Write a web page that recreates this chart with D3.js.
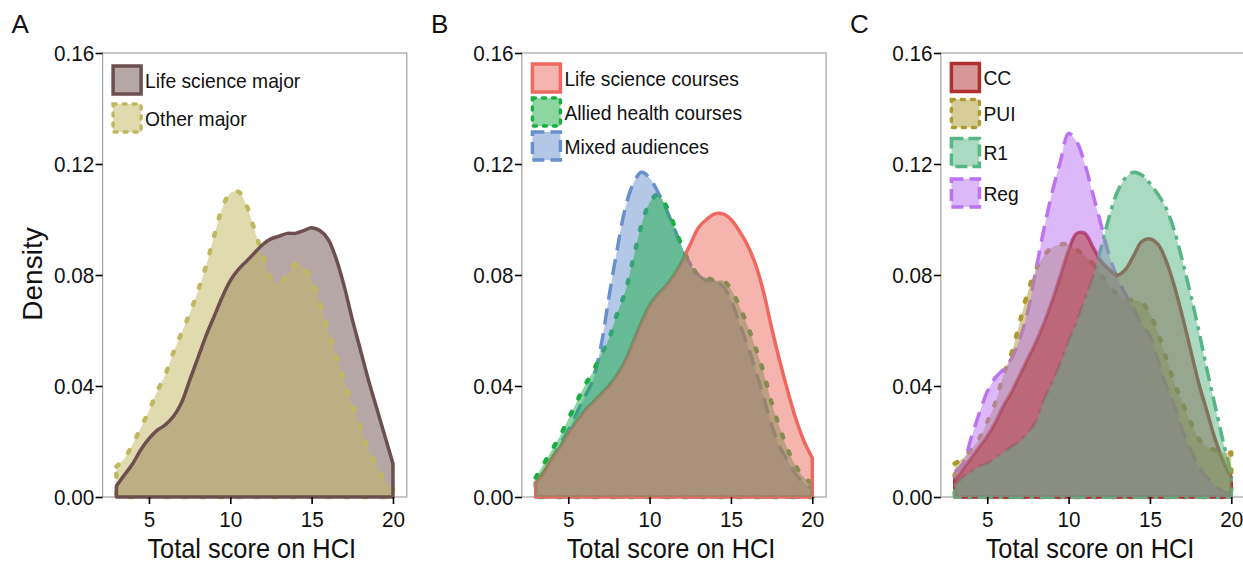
<!DOCTYPE html>
<html><head><meta charset="utf-8">
<script src="https://cdn.jsdelivr.net/npm/d3@7"></script>
<style>
body{margin:0;background:#fff}
svg{display:block}
text{font-family:"Liberation Sans",Arial,Helvetica,sans-serif;fill:#111}
</style>
</head><body>
<svg id="chart" width="1243" height="565"></svg>
<script>
// ---------- data ----------
const scores = [3,3.5,4,4.5,5,5.5,6,6.5,7,7.5,8,8.5,9,9.5,10,10.5,11,11.5,12,12.5,13,13.5,14,14.5,15,15.5,16,16.5,17,17.5,18,18.5,19,19.5,20];
const xTicks = [5,10,15,20];
const yTicks = [0,0.04,0.08,0.12,0.16];
const panelLabels = ["A","B","C"];
const xTitle = "Total score on HCI";
const yTitle = "Density";

// Panel A
const majorNames = ["Life science major","Other major"];
const lifeScienceMajor = [0.004,0.008,0.012,0.017,0.021,0.024,0.026,0.029,0.034,0.042,0.050,0.058,0.065,0.072,0.078,0.082,0.085,0.088,0.091,0.093,0.094,0.095,0.095,0.096,0.097,0.096,0.093,0.086,0.076,0.064,0.053,0.042,0.032,0.022,0.012];
const otherMajor = [0.011,0.014,0.019,0.025,0.031,0.038,0.044,0.052,0.059,0.066,0.074,0.083,0.094,0.104,0.1095,0.110,0.105,0.096,0.087,0.079,0.077,0.080,0.084,0.083,0.078,0.070,0.060,0.051,0.042,0.033,0.025,0.017,0.011,0.006,0.003];

// Panel B
const courseNames = ["Life science courses","Allied health courses","Mixed audiences"];
const lifeScienceCourses = [0.005,0.009,0.014,0.018,0.023,0.027,0.031,0.034,0.037,0.040,0.044,0.049,0.056,0.063,0.069,0.073,0.076,0.080,0.085,0.091,0.097,0.100,0.102,0.102,0.100,0.096,0.091,0.084,0.074,0.061,0.049,0.038,0.028,0.020,0.014];
const alliedHealthCourses = [0.007,0.012,0.017,0.022,0.028,0.034,0.040,0.045,0.051,0.057,0.066,0.074,0.086,0.098,0.106,0.109,0.105,0.098,0.090,0.084,0.080,0.079,0.078,0.078,0.075,0.069,0.062,0.054,0.045,0.034,0.025,0.017,0.011,0.007,0.005];
const mixedAudiences = [0.005,0.009,0.014,0.019,0.024,0.030,0.036,0.042,0.054,0.072,0.089,0.104,0.113,0.117,0.115,0.110,0.104,0.097,0.090,0.084,0.080,0.078,0.078,0.076,0.071,0.063,0.055,0.046,0.036,0.026,0.018,0.013,0.008,0.005,0.003];

// Panel C
const institutionNames = ["CC","PUI","R1","Reg"];
const cc  = [0.006,0.010,0.014,0.018,0.022,0.027,0.033,0.038,0.044,0.050,0.056,0.063,0.071,0.080,0.089,0.095,0.095,0.090,0.085,0.082,0.080,0.082,0.087,0.092,0.093,0.091,0.085,0.076,0.065,0.053,0.041,0.031,0.021,0.013,0.007];
const pui = [0.012,0.014,0.017,0.021,0.027,0.034,0.044,0.052,0.063,0.074,0.082,0.087,0.090,0.091,0.091,0.089,0.087,0.084,0.080,0.076,0.073,0.071,0.071,0.070,0.066,0.059,0.050,0.041,0.034,0.027,0.021,0.018,0.017,0.016,0.016];
const r1  = [0.004,0.007,0.009,0.011,0.012,0.014,0.016,0.018,0.020,0.023,0.027,0.035,0.041,0.048,0.056,0.063,0.071,0.079,0.090,0.101,0.110,0.115,0.117,0.116,0.113,0.109,0.104,0.096,0.085,0.073,0.060,0.046,0.033,0.020,0.008];
const reg = [0.009,0.012,0.021,0.030,0.038,0.043,0.046,0.050,0.057,0.067,0.082,0.097,0.110,0.121,0.131,0.128,0.120,0.109,0.098,0.087,0.079,0.073,0.068,0.062,0.058,0.049,0.040,0.033,0.024,0.017,0.011,0.007,0.004,0.002,0.001];

// ---------- styles ----------
const DOT = "3,15", DASH = "16,9", DOTDASH = "15,6,4,6";
const panels = [
  { left: 102.6, linesOnTop: true,
    series: [
      {name: majorNames[0], values: lifeScienceMajor, color: "#6E4F4F", dash: null},
      {name: majorNames[1], values: otherMajor, color: "#C0B860", dash: DOT}],
    fillOrder: [0,1], lineOrder: [1,0], keyY: [80,118] },
  { left: 521.9, linesOnTop: false,
    series: [
      {name: courseNames[0], values: lifeScienceCourses, color: "#EE6A60", dash: null},
      {name: courseNames[1], values: alliedHealthCourses, color: "#1AAE44", dash: DOT},
      {name: courseNames[2], values: mixedAudiences, color: "#6890CE", dash: DASH}],
    fillOrder: [2,1,0], lineOrder: [2,1,0], keyY: [78,112,146] },
  { left: 940.9, linesOnTop: false,
    series: [
      {name: institutionNames[0], values: cc, color: "#B03030", dash: null},
      {name: institutionNames[1], values: pui, color: "#AC9A30", dash: DOT},
      {name: institutionNames[2], values: r1, color: "#58B585", dash: DOTDASH},
      {name: institutionNames[3], values: reg, color: "#BC72F2", dash: DASH}],
    fillOrder: [1,3,0,2], lineOrder: [1,3,0,2], keyY: [77.5,113.5,152.5,193] }
];

const W = 304.2, TOP = 53, BOTTOM = 497;
const svg = d3.select("#chart");

panels.forEach((p, pi) => {
  const x = d3.scaleLinear().domain([2.15, 20.85]).range([p.left, p.left + W]);
  const y = d3.scaleLinear().domain([0, 0.16]).range([BOTTOM, TOP]);
  const g = svg.append("g");

  g.append("rect").attr("x", p.left).attr("y", TOP).attr("width", W).attr("height", BOTTOM - TOP)
    .attr("fill", "none").attr("stroke", "#a3a3a3").attr("stroke-width", 1.2);

  const topLine = d3.line().x((d, i) => x(scores[i])).y(d => y(d)).curve(d3.curveCatmullRom.alpha(0.5));
  const shape = vals => topLine(vals) +
    `L${x(scores[scores.length-1])},${y(0)}L${x(scores[0])},${y(0)}Z`;

  const drawFill = s => g.append("path").attr("d", shape(s.values))
      .attr("fill", s.color).attr("fill-opacity", 0.5).attr("stroke", "none");
  const drawLine = s => g.append("path").attr("d", shape(s.values))
      .attr("fill", "none").attr("stroke", s.color).attr("stroke-width", s.dash === DOT ? 4.5 : 3.5)
      .attr("stroke-linejoin", "round")
      .attr("stroke-linecap", s.dash === DOT ? "round" : "butt")
      .attr("stroke-dasharray", s.dash);

  if (p.linesOnTop) {
    p.fillOrder.forEach(i => drawFill(p.series[i]));
    p.lineOrder.forEach(i => drawLine(p.series[i]));
  } else {
    p.lineOrder.forEach(i => drawLine(p.series[i]));
    p.fillOrder.forEach(i => drawFill(p.series[i]));
  }

  const yAx = g.append("g").attr("transform", `translate(${p.left},0)`)
    .call(d3.axisLeft(y).tickValues(yTicks).tickFormat(d3.format(".2f")).tickSize(7).tickPadding(2));
  const xAx = g.append("g").attr("transform", `translate(0,${BOTTOM})`)
    .call(d3.axisBottom(x).tickValues(xTicks).tickFormat(d3.format("d")).tickSize(7).tickPadding(7));
  [yAx, xAx].forEach(a => {
    a.select(".domain").remove();
    a.selectAll(".tick line").attr("stroke", "#000").attr("stroke-width", 1.6);
    a.selectAll(".tick text").attr("font-size", 22).attr("fill", "#111")
      .attr("font-family", '"Liberation Sans",Arial,sans-serif')
      .attr("transform", "scale(0.94,1)");
  });

  g.append("text").attr("transform", `translate(${p.left + W/2 - 3},558) scale(0.94,1)`)
    .attr("text-anchor", "middle").attr("font-size", 27).text(xTitle);

  g.append("text").attr("x", p.left - 91).attr("y", 33).attr("font-size", 26).text(panelLabels[pi]);

  p.series.forEach((s, i) => {
    const cy = p.keyY[i];
    const kx = p.left + 10.5;
    g.append("rect").attr("x", kx).attr("y", cy - 14).attr("width", 28).attr("height", 28)
      .attr("fill", s.color).attr("fill-opacity", 0.5)
      .attr("stroke", s.color).attr("stroke-width", 3.5)
      .attr("stroke-linecap", s.dash === DOT ? "round" : "butt")
      .attr("stroke-dasharray", s.dash === DOT ? "3,7" : s.dash === DASH ? "12,6" : s.dash === DOTDASH ? "12,5" : null);
    g.append("text").attr("transform", `translate(${kx + 32},${cy + 7.5}) scale(0.94,1)`)
      .attr("font-size", 20.5).text(s.name);
  });
});

svg.append("text").attr("transform", "translate(42,274) rotate(-90)")
  .attr("text-anchor", "middle").attr("font-size", 28).text(yTitle);
</script>
</body></html>
